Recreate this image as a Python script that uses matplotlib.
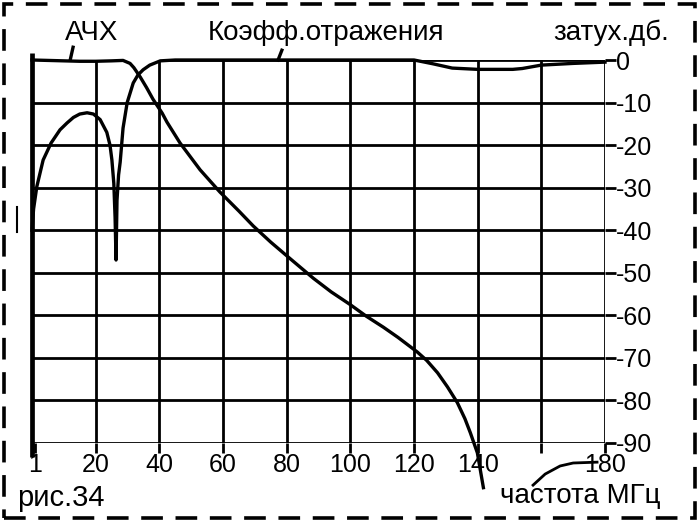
import matplotlib
matplotlib.use("Agg")
import matplotlib.pyplot as plt
from matplotlib.patches import Rectangle
from matplotlib.lines import Line2D

plt.rcParams['font.family'] = ['Liberation Sans', 'DejaVu Sans']

# АЧХ (frequency response), dB vs MHz
ach_f = [0, 5, 10, 15, 20, 25, 28.6, 30.8, 32, 34, 36, 38, 40.9, 42.4, 46.5, 52.8,
         59, 65, 69.5, 75, 80.8, 88.4, 94, 100, 105, 110.4, 115, 121, 124, 127.4,
         130.5, 133.6, 136, 137.7, 139.9, 141.8]
ach_db = [0, -0.1, -0.2, -0.3, -0.3, -0.2, -0.1, -0.8, -1.8, -4, -6.5, -9.2, -12.5,
          -14.6, -19.5, -25.8, -31, -35.5, -39, -42.8, -46.5, -51.3, -54.5, -57.5,
          -60.2, -62.8, -65.2, -68.6, -70.6, -73.5, -76.8, -80.5, -84.3, -87.6,
          -92.3, -100.5]

# Коэфф. отражения (reflection coefficient), dB vs MHz
refl_f = [0, 0.5, 1.5, 3.5, 6, 8.8, 11, 13, 15, 17.3, 19.3, 21.4, 23.5, 24.5, 25.1,
          25.7, 26.1, 26.4, 26.7, 27.2, 27.7, 28.6, 29.9, 31.8, 33.3, 34.9, 37,
          40.3, 45, 80, 120, 126, 132, 140, 151, 154, 160, 170, 180]
refl_db = [-40, -35, -29.8, -23.5, -19.5, -16.4, -14.8, -13.5, -12.7, -12.4, -12.7,
           -14, -17, -20, -23.5, -29, -37, -47, -33, -27, -24, -16, -10, -5.4,
           -3.5, -2.3, -1.2, -0.2, 0, 0, 0, -0.9, -1.9, -2.2, -2.2, -2.0, -1.2,
           -0.8, -0.5]

# leader from the x-axis caption to the 180 tick
lead_f = [157.4, 161.2, 165.9, 170, 177.5]
lead_db = [-99.9, -97.3, -95.4, -94.7, -94.5]

x_ticks = [1, 20, 40, 60, 80, 100, 120, 140, 160, 180]
x_labels = ['1', '20', '40', '60', '80', '100', '120', '140', '', '180']
y_ticks = [0, -10, -20, -30, -40, -50, -60, -70, -80, -90]
y_labels = ['0', '-10', '-20', '-30', '-40', '-50', '-60', '-70', '-80', '-90']

W, H = 700, 524
fig = plt.figure(figsize=(7.0, 5.24), dpi=100)
ax = fig.add_axes([32 / W, 1 - 443 / H, (605 - 32) / W, (443 - 60) / H])
ax.set_xlim(0, 180)
ax.set_ylim(-90, 0)
for s in ax.spines.values():
    s.set_visible(False)

lw_grid = 2.0
# grid
for xv in x_ticks[1:]:
    ax.plot([xv, xv], [-90, 0], color='black', lw=lw_grid, solid_capstyle='butt')
for yv in y_ticks[1:]:
    ax.plot([0, 180], [yv, yv], color='black', lw=lw_grid, solid_capstyle='butt')
ax.plot([40, 180], [0, 0], color='black', lw=lw_grid, solid_capstyle='butt')
# thick left edge
ax.plot([0, 0], [1.6, -93.3], color='black', lw=3.4, clip_on=False,
        solid_capstyle='butt')

ax.xaxis.tick_bottom()
ax.set_xticks(x_ticks)
ax.set_xticklabels(x_labels)
ax.yaxis.tick_right()
ax.set_yticks(y_ticks)
ax.set_yticklabels(y_labels)
ax.tick_params(axis='x', direction='out', length=7, width=2.0, pad=0,
               labelsize=18, colors='black')
ax.tick_params(axis='y', direction='out', length=8, width=2.0, pad=0,
               labelsize=18, colors='black')

# curves
ax.plot(ach_f, ach_db, color='black', lw=2.4, clip_on=False)
ax.plot(refl_f, refl_db, color='black', lw=2.4, clip_on=False)
ax.plot(lead_f, lead_db, color='black', lw=2.0, clip_on=False)
# label leaders
ax.plot([12, 12.9], [0, 3.0], color='black', lw=2.4, clip_on=False)
ax.plot([77.3, 78.5], [0, 2.3], color='black', lw=2.4, clip_on=False)

# captions
fig.text(65 / W, 1 - 33 / H, 'АЧХ', fontsize=20, ha='left', va='center')
fig.text(208 / W, 1 - 33 / H, 'Коэфф.отражения', fontsize=20, ha='left', va='center')
fig.text(553 / W, 1 - 33 / H, 'затух.дб.', fontsize=20, ha='left', va='center')
fig.text(17 / W, 1 - 498 / H, 'рис.34', fontsize=21, ha='left', va='center')
fig.text(500 / W, 1 - 496 / H, 'частота МГц', fontsize=20, ha='left', va='center')

# scan mark on the left
fig.add_artist(Line2D([17 / W, 17 / W], [1 - 207 / H, 1 - 232 / H],
                      color='black', lw=1.5, transform=fig.transFigure))

# dashed frame
fig.add_artist(Rectangle((4 / W, 1 - 518 / H), (695 - 4) / W, (518 - 4) / H,
                         transform=fig.transFigure, fill=False, edgecolor='black',
                         lw=2.6, linestyle=(0, (6, 3.5))))

fig.savefig('out.png', dpi=100)
